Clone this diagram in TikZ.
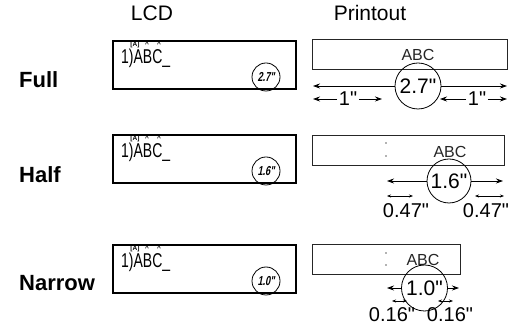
\documentclass[tikz,border=0pt]{standalone}
\usepackage{fontspec}
\setmainfont{Liberation Sans}[Ligatures=TeXOff]
\newfontfamily\lcdfont[FakeStretch=0.7,Ligatures=TeXOff]{Liberation Sans}
\newfontfamily\lcdtag[FakeStretch=0.7,FakeSlant=0.2,Ligatures=TeXOff]{Liberation Sans}
\usetikzlibrary{arrows.meta,positioning}

\begin{document}
\begin{tikzpicture}[x=1pt,y=-1pt,
	coltitle/.style={font=\fontsize{21}{21}\selectfont},
	modelbl/.style={anchor=west,inner sep=0pt,font=\bfseries\fontsize{22}{22}\selectfont},
	lcd/.style={draw,line width=1.6pt,minimum width=183pt,minimum height=48pt,anchor=north west,inner sep=0pt},
	glyph/.style={inner sep=0pt,anchor=north,font=\bfseries\fontsize{6.5}{6.5}\selectfont},
	sizetag/.style={draw,circle,line width=0.8pt,minimum size=28pt,inner sep=0pt,font=\lcdtag\bfseries\fontsize{13}{13}\selectfont},
	tape/.style={draw=black!85,line width=0.9pt,minimum height=30pt,anchor=north west,inner sep=0pt},
	abc/.style={inner sep=0pt,font=\fontsize{16}{16}\selectfont,text=black!85},
	dimcirc/.style={draw,circle,line width=0.8pt,inner sep=0pt,font=\fontsize{21}{21}\selectfont},
	num/.style={inner sep=1.5pt,font=\fontsize{20}{20}\selectfont},
	lng/.style={line width=0.8pt,-{Stealth[length=7pt,width=5pt]}},
	sml/.style={line width=0.6pt,{Stealth[length=4pt,width=3pt]}-{Stealth[length=4pt,width=3pt]}}]
	\useasboundingbox (0,0) rectangle (509,328);
	\node[coltitle] (lcdtitle) at (152,13) {LCD};
	\node[coltitle] (printtitle) at (370,13) {Printout};
	\foreach \m/\y/\t/\ly in {Full/40/2.7/80,Half/134/1.6/175,Narrow/244/1.0/283} {
		\node[modelbl] (lbl\m) at (19,\ly) {\m};
		\node[lcd] (lcd\m) at (112,\y) {};
		\node[anchor=base west,inner sep=0pt,font=\lcdfont\fontsize{20}{20}\selectfont] (txt\m) at (121,\y+24) {1)ABC\_};
		\node[glyph] (sel\m) at (135,\y+1.5) {[A]};
		\node[glyph] (upa\m) at (147,\y+2) {\textasciicircum};
		\node[glyph] (upb\m) at (159,\y+2) {\textasciicircum};
		\node[sizetag] (tag\m) at (266,\y+37) {\t"};
	}
	\node[tape,minimum width=195pt] (tapeF) at (312,39) {};
	\node[abc] (abcF) at (418,55) {ABC};
	\node[dimcirc,minimum size=46pt] (dimF) at (418,86) {2.7"};
	\coordinate (fl) at (313,86);
	\coordinate (fr) at (507,86);
	\draw[lng] (dimF) -- (fl);
	\draw[lng] (dimF) -- (fr);
	\node[num] (oneL) at (348,99) {1"};
	\coordinate (al) at (313,99);
	\coordinate (ar) at (382,99);
	\draw[lng] (oneL) -- (al);
	\draw[lng] (oneL) -- (ar);
	\node[num] (oneR) at (477,99) {1"};
	\coordinate (bl) at (440,99);
	\coordinate (br) at (507,99);
	\draw[lng] (oneR) -- (bl);
	\draw[lng] (oneR) -- (br);
	\node[tape,minimum width=192pt] (tapeH) at (312,135) {};
	\fill[black!60] (386,143) circle (0.9pt) (386,156) circle (0.9pt);
	\node[abc] (abcH) at (450,152) {ABC};
	\node[dimcirc,minimum size=44pt] (dimH) at (449,181) {1.6"};
	\coordinate (hl) at (387,181);
	\coordinate (hr) at (503,181);
	\draw[lng] (dimH) -- (hl);
	\draw[lng] (dimH) -- (hr);
	\coordinate (hla) at (387,196);
	\coordinate (hlb) at (413,196);
	\coordinate (hra) at (475,196);
	\coordinate (hrb) at (504,196);
	\draw[sml] (hla) -- (hlb);
	\draw[sml] (hra) -- (hrb);
	\node[num] (qL) at (406,211) {0.47"};
	\node[num] (qR) at (486,211) {0.47"};
	\node[tape,minimum width=148pt] (tapeN) at (312,244) {};
	\fill[black!60] (386,253) circle (0.9pt) (386,265) circle (0.9pt);
	\node[abc] (abcN) at (423,260) {ABC};
	\node[dimcirc,minimum size=46pt] (dimN) at (424.5,288) {1.0"};
	\coordinate (nl) at (387,288);
	\coordinate (nr) at (459,288);
	\draw[lng] (dimN) -- (nl);
	\draw[lng] (dimN) -- (nr);
	\coordinate (nla) at (392,301);
	\coordinate (nlb) at (407,301);
	\coordinate (nra) at (438,301);
	\coordinate (nrb) at (453,301);
	\draw[sml] (nla) -- (nlb);
	\draw[sml] (nra) -- (nrb);
	\node[num] (sL) at (392,315) {0.16"};
	\node[num] (sR) at (450,315) {0.16"};
\end{tikzpicture}
\end{document}
